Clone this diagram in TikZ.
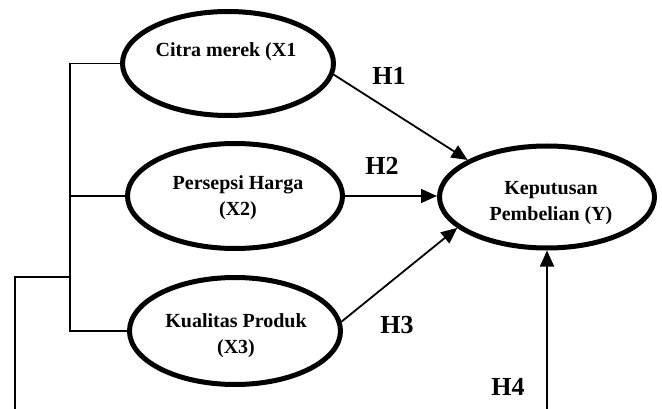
\documentclass[tikz,border=0pt]{standalone}
\usepackage{fontspec}
\setmainfont{Liberation Serif}
\usetikzlibrary{arrows.meta,calc,shapes.geometric}
\tikzset{
  var/.style={ellipse, draw, line width=5pt, inner sep=0pt},
  lbl/.style={font=\bfseries\fontsize{20}{26}\selectfont, align=center, anchor=base, inner sep=0pt},
  hyp/.style={font=\bfseries\fontsize{26}{30}\selectfont, anchor=base, inner sep=0pt},
  arr/.style={line width=1.8pt, -{Triangle[length=16pt,width=14pt]}},
  link/.style={line width=1.5pt},
}
\begin{document}
\begin{tikzpicture}[x=1pt,y=-1pt]
\useasboundingbox (0,0) rectangle (662,409);
\clip (0,0) rectangle (662,409);
% latent variables
\node[var, minimum width=211pt, minimum height=104pt] (X1) at (228,63.5) {};
\node[var, minimum width=215pt, minimum height=105pt] (X2) at (235,196) {};
\node[var, minimum width=211pt, minimum height=107pt] (X3) at (235,331) {};
\node[var, minimum width=215pt, minimum height=102pt] (Y) at (547,197) {};
% texts (second lines cut off at the bottom as in the source)
\node[lbl] (tX1) at (226,57) {Citra merek (X1};
\begin{scope}
\clip (120,160) rectangle (350,218.5);
\node[lbl] (tX2) at (238,215) {Persepsi Harga\\(X2)};
\end{scope}
\begin{scope}
\clip (120,300) rectangle (350,356);
\node[lbl] (tX3) at (236,353) {Kualitas Produk\\(X3)};
\end{scope}
\begin{scope}
\clip (440,165) rectangle (660,223.5);
\node[lbl] (tY) at (551,221) {Keputusan\\Pembelian (Y)};
\end{scope}
% hypothesis labels
\node[hyp] (H1) at (389,85) {H1};
\node[hyp] (H2) at (382,175) {H2};
\node[hyp] (H3) at (397,333) {H3};
\node[hyp] (H4) at (508,395) {H4};
% bracket
\coordinate (bx) at (70,0);
\coordinate (bj) at (70,277);
\coordinate (lx) at (15,277);
\coordinate (lb) at (15,430);
\coordinate (yb) at (547,430);
\draw[link] (X1.west) -- (X1.west -| bx) -- (X3.west -| bx) -- (X3.west);
\draw[link] (X2.west) -- (X2.west -| bx);
\draw[link] (bj) -- (lx) -- (lb);
% paths
\draw[arr] (X1.-6) -- (Y.155);
\draw[arr] (X2.east) -- (X2.east -| Y.west);
\draw[arr] (X3.5) -- (Y.-161);
\draw[arr] (yb) -- (Y.south);
\end{tikzpicture}
\end{document}
